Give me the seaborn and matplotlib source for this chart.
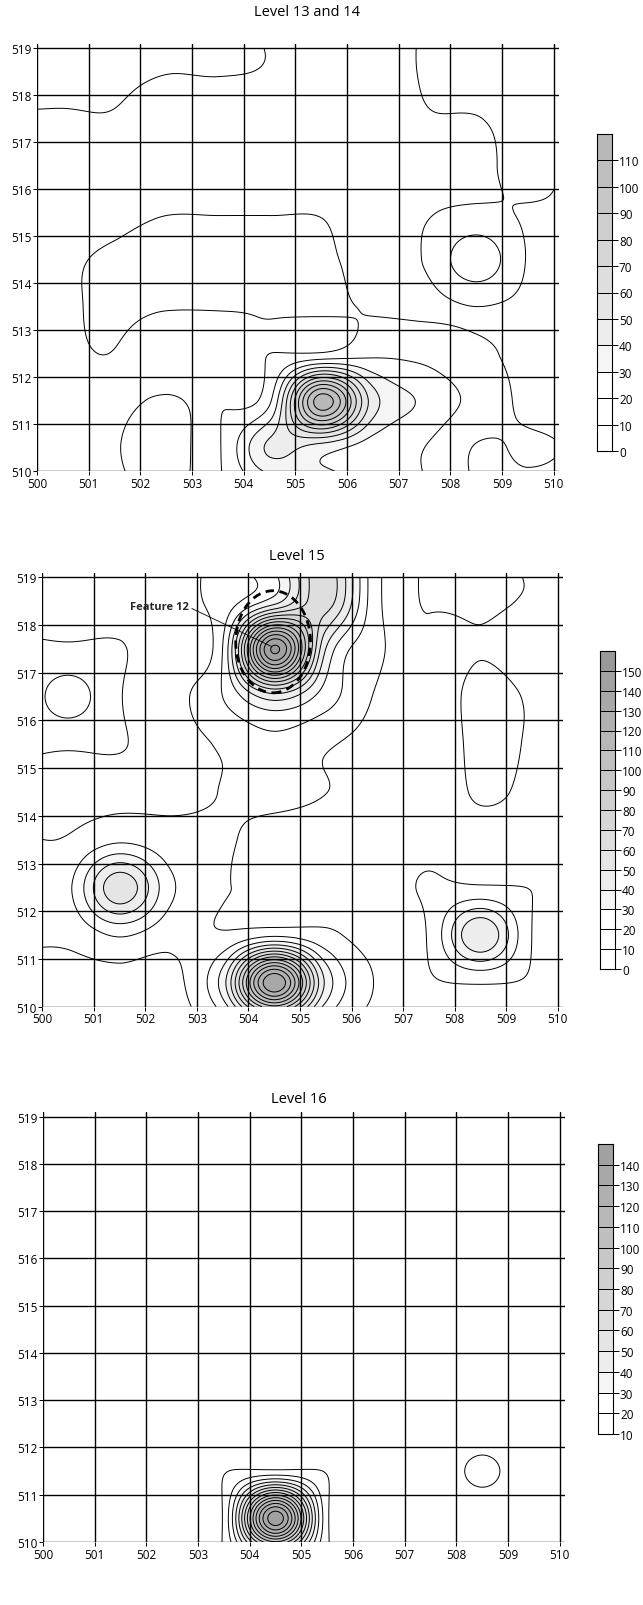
import numpy as np
import pandas as pd
import matplotlib
matplotlib.use("Agg")
import matplotlib.pyplot as plt
import seaborn as sns
from matplotlib.colors import ListedColormap
from matplotlib.patches import Ellipse

sns.set_theme(style="white")
plt.rcParams["font.family"] = ["Open Sans", "DejaVu Sans"]

# ---------------- data: artefact counts per 1 x 1 m unit ----------------
unit_x = [500.5, 501.5, 502.5, 503.5, 504.5, 505.5, 506.5, 507.5, 508.5, 509.5]
unit_y = [518.5, 517.5, 516.5, 515.5, 514.5, 513.5, 512.5, 511.5, 510.5]

counts_level_13_14 = [
    [13, 11.5, 10.15, 10.3, 9.6, 7, 7, 10.5, 13, 13],
    [9.2, 9.5, 6, 6, 6, 6, 6, 9.5, 9.8, 12],
    [7, 7, 7, 7, 7, 7, 7, 7, 8, 12.5],
    [8.5, 8.5, 9.8, 9.8, 9.8, 9.8, 8, 9.5, 11.5, 9.5],
    [9.5, 10.8, 13, 13, 13, 11, 8.5, 10.5, 27, 9.5],
    [9.5, 10.8, 10.3, 10.3, 10.5, 12, 9, 8, 10, 8.5],
    [9.5, 9.9, 7, 7, 10, 11, 18, 17, 12, 8],
    [9, 9, 10.5, 9.5, 18, 116, 45, 28, 17, 8],
    [7, 9.5, 14, 9, 42, 35, 25, 20, 9.5, 11],
]

counts_level_15 = [
    [8.5, 7, 7, 14, 35, 65, 12, 10.5, 10.5, 9.8],
    [11, 10.5, 7, 20, 152, 40, 12, 8, 9.7, 8],
    [25, 10.5, 7, 20, 45, 25, 9, 7, 11.5, 9.6],
    [11, 10.5, 7, 11, 16, 11, 7, 6, 11.5, 9.6],
    [8, 8, 8, 10.2, 12, 10.1, 7, 6, 10.8, 9],
    [10.5, 18, 13, 10.8, 8, 7, 7, 8, 8, 8],
    [18, 58, 22, 11, 8, 7, 7, 10.8, 11, 9.9],
    [12, 21, 13, 11, 18, 12, 7, 11, 50, 9.9],
    [6, 6, 6.5, 35, 140, 38, 9, 9.5, 10.6, 9.5],
]

counts_level_16 = [
    [0, 0, 0, 0, 0, 0, 0, 0, 0, 0],
    [0, 0, 0, 0, 0, 0, 0, 0, 0, 0],
    [0, 0, 0, 0, 0, 0, 0, 0, 0, 0],
    [0, 0, 0, 0, 0, 0, 0, 0, 0, 0],
    [0, 0, 0, 0, 0, 0, 0, 0, 0, 0],
    [0, 0, 0, 0, 0, 0, 0, 0, 0, 0],
    [0, 0, 0, 0, 0, 0, 0, 0, 0, 0],
    [0, 0, 0, 9.5, 12, 9.5, 0, 0, 13, 0],
    [0, 0, 3, 12, 147, 12, 3, 0, 0, 0],
]

titles = ["Level 13 and 14", "Level 15", "Level 16"]
bounds_13_14 = [0, 10, 20, 30, 40, 50, 60, 70, 80, 90, 100, 110, 120]
bounds_15 = [0, 10, 20, 30, 40, 50, 60, 70, 80, 90, 100, 110, 120, 130, 140, 150, 160]
bounds_16 = [10, 20, 30, 40, 50, 60, 70, 80, 90, 100, 110, 120, 130, 140, 150]
x_ticks = [500, 501, 502, 503, 504, 505, 506, 507, 508, 509, 510]
y_ticks = [510, 511, 512, 513, 514, 515, 516, 517, 518, 519]
feature_label = "Feature 12"

# ---------------- layout (figure fractions) ----------------
FIG_W, FIG_H = 643, 1606
panel_rects = [
    [37 / FIG_W, 1 - 472 / FIG_H, 522 / FIG_W, 427.5 / FIG_H],
    [42 / FIG_W, 1 - 1007.6 / FIG_H, 521 / FIG_W, 434 / FIG_H],
    [43 / FIG_W, 1 - 1543 / FIG_H, 522 / FIG_W, 430 / FIG_H],
]
legend_rects = [
    [597 / FIG_W, 1 - 452 / FIG_H, 15 / FIG_W, 317 / FIG_H],
    [600 / FIG_W, 1 - 970 / FIG_H, 15 / FIG_W, 318 / FIG_H],
    [598 / FIG_W, 1 - 1435 / FIG_H, 15 / FIG_W, 290 / FIG_H],
]
title_pos = [(307, 12), (297, 557), (299, 1100)]


def band_colors(bounds):
    cols = []
    for lo in bounds[:-1]:
        if lo < 30:
            g = 1.0
        else:
            g = 0.96 - 0.003 * (lo - 30)
        cols.append((g, g, g))
    return cols


def pad_units(C):
    """Two ghost units per side: flat at the top edge, elsewhere the smaller of
    the edge value and its mirror (keeps edge peaks centred on their unit)."""
    left = [np.minimum(C[:, 0], C[:, 2]), np.minimum(C[:, 0], C[:, 1])]
    right = [np.minimum(C[:, -1], C[:, -2]), np.minimum(C[:, -1], C[:, -3])]
    C = np.column_stack([left[0], left[1], C, right[0], right[1]])
    bottom = [np.minimum(C[-1], C[-2]), np.minimum(C[-1], C[-3])]
    C = np.vstack([C[0], C[0], C, bottom[0], bottom[1]])
    return C


def cubic_weights(u, n):
    """Catmull-Rom interpolation matrix (n padded nodes) for positions u."""
    W = np.zeros((len(u), n))
    i0 = np.floor(u).astype(int)
    t = u - i0
    parts = [(-t ** 3 + 2 * t ** 2 - t) / 2,
             (3 * t ** 3 - 5 * t ** 2 + 2) / 2,
             (-3 * t ** 3 + 4 * t ** 2 + t) / 2,
             (t ** 3 - t ** 2) / 2]
    rows = np.arange(len(u))
    for off, wt in zip((-1, 0, 1, 2), parts):
        idx = np.clip(i0 + off, 0, n - 1)
        np.add.at(W, (rows, idx), wt)
    return W


def surface(counts):
    C = pad_units(np.asarray(counts, float))
    gx = np.linspace(500, 510, 401)
    gy = np.linspace(510, 519, 361)
    Wx = cubic_weights(gx - unit_x[0] + 2, C.shape[1])
    Wy = cubic_weights(unit_y[0] - gy + 2, C.shape[0])
    Z = Wy @ C @ Wx.T
    GX, GY = np.meshgrid(gx, gy)
    return GX, GY, Z


def draw_legend(cax, bounds):
    n = len(bounds) - 1
    cols = band_colors(bounds)
    mids = [(bounds[i] + bounds[i + 1]) / 2 for i in range(n)]
    df = pd.DataFrame({"band": mids[::-1]})
    sns.heatmap(df, ax=cax, cmap=ListedColormap(cols), vmin=bounds[0], vmax=bounds[-1],
                cbar=False, linewidths=0.7, linecolor="black",
                xticklabels=False, yticklabels=False)
    cax.set_yticks(np.arange(1, n + 1))
    cax.set_yticklabels([str(b) for b in bounds[:-1][::-1]])
    cax.yaxis.tick_right()
    cax.tick_params(axis="y", length=4, width=0.7, pad=1, labelsize=8.5,
                    colors="black", right=True, left=False, direction="out")
    cax.set_xticks([])
    cax.set_ylabel("")
    for s in cax.spines.values():
        s.set_visible(True)
        s.set_color("black")
        s.set_linewidth(0.8)


fig = plt.figure(figsize=(FIG_W / 100, FIG_H / 100), dpi=100)
fig.patch.set_facecolor("white")

all_counts = [counts_level_13_14, counts_level_15, counts_level_16]
all_bounds = [bounds_13_14, bounds_15, bounds_16]

for k in range(3):
    ax = fig.add_axes(panel_rects[k])
    bounds = all_bounds[k]
    GX, GY, Z = surface(all_counts[k])
    Zf = np.clip(Z, -1, bounds[-1] - 1e-6)
    ax.contourf(GX, GY, Zf, levels=bounds, colors=band_colors(bounds), zorder=1)
    line_levels = [b for b in bounds[:-1] if b > 0]
    ax.contour(GX, GY, Z, levels=line_levels, colors="black", linewidths=0.7, zorder=2)
    ax.set_xlim(500, 510.1)
    ax.set_ylim(510, 519.1)
    ax.set_xticks(x_ticks)
    ax.set_yticks(y_ticks)
    ax.set_xticklabels([str(t) for t in x_ticks])
    ax.set_yticklabels([str(t) for t in y_ticks])
    ax.grid(True, color="black", linewidth=1.0)
    ax.set_axisbelow(False)
    for s in ax.spines.values():
        s.set_visible(False)
    ax.tick_params(axis="both", length=3, width=0.7, direction="out", labelsize=8.5,
                   pad=1, colors="black", left=True, bottom=True)
    fig.text(title_pos[k][0] / FIG_W, 1 - title_pos[k][1] / FIG_H, titles[k],
             ha="center", va="center", fontsize=10.5, color="black")
    if k == 1:
        ax.add_patch(Ellipse((504.48, 517.65), 1.45, 2.14, fill=False, lw=2.0,
                             ls=(0, (3, 2)), edgecolor="black", zorder=4))
        ax.annotate(feature_label, xy=(504.45, 517.55), xytext=(502.27, 518.38),
                    fontsize=8, fontweight="bold", ha="center", va="center",
                    arrowprops=dict(arrowstyle="-", lw=0.6, color="black",
                                    shrinkA=0, shrinkB=0,
                                    relpos=(1.0, 0.5)), zorder=5)
    cax = fig.add_axes(legend_rects[k])
    draw_legend(cax, bounds)

fig.savefig("out.png", dpi=100, facecolor="white")
